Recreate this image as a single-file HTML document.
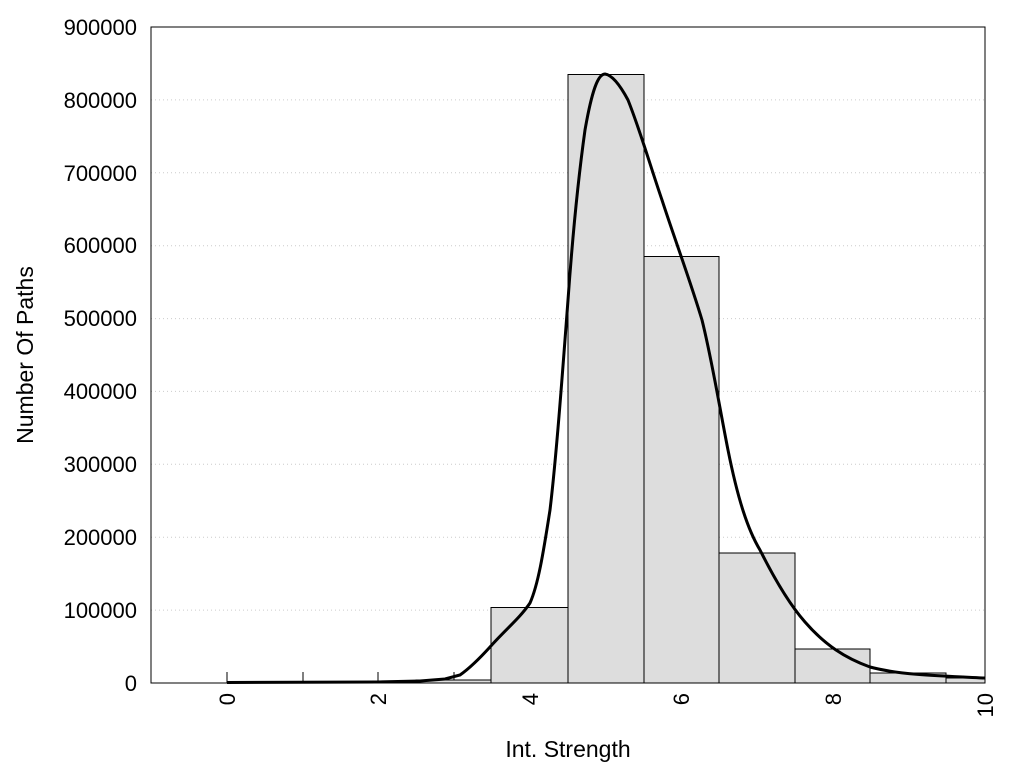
<!DOCTYPE html>
<html><head><style>body{margin:0;background:#fff}</style></head><body>
<svg width="1024" height="768" xmlns="http://www.w3.org/2000/svg" font-family="Liberation Sans, sans-serif">
<rect width="1024" height="768" fill="#fff"/>
<g stroke="#ccc" stroke-dasharray="1,3" stroke-width="1">
<line x1="151" x2="985" y1="610.1" y2="610.1"/><line x1="151" x2="985" y1="537.2" y2="537.2"/>
<line x1="151" x2="985" y1="464.3" y2="464.3"/><line x1="151" x2="985" y1="391.4" y2="391.4"/>
<line x1="151" x2="985" y1="318.6" y2="318.6"/><line x1="151" x2="985" y1="245.7" y2="245.7"/>
<line x1="151" x2="985" y1="172.8" y2="172.8"/><line x1="151" x2="985" y1="99.9" y2="99.9"/>
</g>
<g stroke="#000" stroke-width="1">
<line x1="227" x2="227" y1="672" y2="683"/><line x1="303" x2="303" y1="672" y2="683"/>
<line x1="378" x2="378" y1="672" y2="683"/><line x1="454" x2="454" y1="672" y2="683"/>
</g>
<g fill="#ddd" stroke="#000" stroke-width="1">
<rect x="416" y="680" width="75" height="3"/>
<rect x="491" y="607.5" width="77" height="75.5"/>
<rect x="568" y="74.5" width="76" height="608.5"/>
<rect x="644" y="256.5" width="75" height="426.5"/>
<rect x="719" y="553" width="76" height="130"/>
<rect x="795" y="649" width="75" height="34"/>
<rect x="870" y="673" width="76" height="10"/>
<rect x="946" y="678" width="39" height="5"/>
</g>
<path d="M227,682.5 L378,682 L420,681 L445,679 L460,675 C470,668 480,658 490,647 C505,630 520,618 530,603 C538,585 543,555 550,510 C556,460 562,380 568,300 C573,230 578,180 585,130 C592,90 598,74 605,74 C612,75 620,85 628,100 C640,130 650,165 662,200 C675,240 690,280 702,320 C712,360 720,410 728,450 C738,500 748,530 760,550 C775,580 790,605 805,622 C825,645 845,658 870,667 C900,675 940,676 985,678" fill="none" stroke="#000" stroke-width="3"/>
<rect x="151" y="27" width="834" height="656" fill="none" stroke="#000" stroke-width="1"/>
<g font-size="22" text-anchor="end" fill="#000">
<text x="137" y="691">0</text><text x="137" y="618">100000</text><text x="137" y="545">200000</text>
<text x="137" y="472">300000</text><text x="137" y="399">400000</text><text x="137" y="326">500000</text>
<text x="137" y="253">600000</text><text x="137" y="181">700000</text><text x="137" y="108">800000</text>
<text x="137" y="35">900000</text>
</g>
<g font-size="22" text-anchor="end" fill="#000">
<text transform="translate(235,693) rotate(-90)">0</text>
<text transform="translate(386,693) rotate(-90)">2</text>
<text transform="translate(538,693) rotate(-90)">4</text>
<text transform="translate(689,693) rotate(-90)">6</text>
<text transform="translate(841,693) rotate(-90)">8</text>
<text transform="translate(993,693) rotate(-90)">10</text>
</g>
<text x="568" y="757" font-size="23" text-anchor="middle">Int. Strength</text>
<text transform="translate(33,355) rotate(-90)" font-size="23" text-anchor="middle">Number Of Paths</text>
</svg>
</body></html>
